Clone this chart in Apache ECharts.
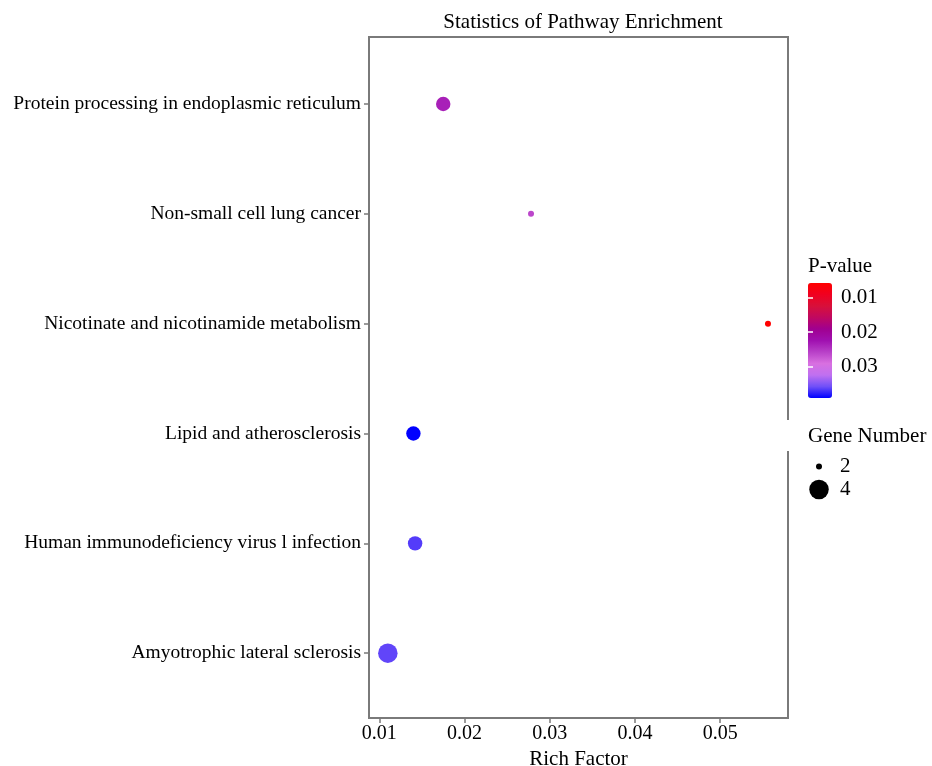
<!DOCTYPE html>
<html>
<head>
<meta charset="utf-8">
<title>Statistics of Pathway Enrichment</title>
<script src="https://cdn.jsdelivr.net/npm/echarts@6/dist/echarts.min.js"></script>
<style>
  html, body {margin: 0; padding: 0; background: #fff;}
  #main {width: 932px; height: 766px;}
</style>
</head>
<body>
<div id="main"></div>
<script>
// 数据（自下而上）
const pathways = [
  "Amyotrophic lateral sclerosis",
  "Human immunodeficiency virus l infection",
  "Lipid and atherosclerosis",
  "Nicotinate and nicotinamide metabolism",
  "Non-small cell lung cancer",
  "Protein processing in endoplasmic reticulum"
];
const richFactor = [0.0110, 0.0142, 0.0140, 0.0556, 0.0278, 0.0175];
const pValue = [0.0362, 0.0366, 0.0391, 0.0057, 0.0262, 0.0235];
const geneNumber = [4, 3, 3, 2, 2, 3];

const xTicks = [0.01, 0.02, 0.03, 0.04, 0.05];
const pTicks = [0.01, 0.02, 0.03];
const sizeLegend = [2, 4];

const FONT = "Liberation Serif";
const pMin = 0.0057, pMax = 0.0391;

// 点大小：按面积在 2 和 4 之间插值
function dotSize(n) {
  let d2 = 6, d4 = 19.5;
  return Math.sqrt(d2 * d2 + (n - 2) / 2 * (d4 * d4 - d2 * d2));
}

let mainData = [];
for (let i = 0; i < pathways.length; i++) {
  mainData.push([richFactor[i], i + 1, pValue[i], geneNumber[i]]);
}
let sizeData = sizeLegend.map(n => [0.5, String(n), n]);

const option = {
  backgroundColor: '#fff',
  animation: false,
  title: {
    text: 'Statistics of Pathway Enrichment',
    left: 578, top: 7, textAlign: 'center',
    textStyle: {fontFamily: FONT, fontSize: 21, fontWeight: 'normal', color: '#000'}
  },
  grid: [
    // 主图
    {left: 369, top: 37, width: 419, height: 681, show: true, outerBoundsMode: 'none',
      borderColor: '#7a7a7a', borderWidth: 2, backgroundColor: '#fff'},
    // P-value 色条刻度
    {left: 808, top: 283, width: 24, height: 115, outerBoundsMode: 'none'},
    // Gene Number 图例
    {left: 809, top: 455, width: 20, height: 46, outerBoundsMode: 'none'}
  ],
  xAxis: [
    {
      gridIndex: 0, type: 'value', min: 0.00879, max: 0.05795,
      name: 'Rich Factor', nameLocation: 'middle', nameGap: 30,
      nameTextStyle: {fontFamily: FONT, fontSize: 21, color: '#000'},
      axisLine: {show: false},
      splitLine: {show: false},
      axisTick: {show: true, length: 5, customValues: xTicks, lineStyle: {color: '#7a7a7a', width: 1.5}},
      axisLabel: {customValues: xTicks, margin: 6, fontFamily: FONT, fontSize: 20, color: '#000',
        formatter: v => v.toFixed(2)}
    },
    {gridIndex: 1, type: 'value', min: 0, max: 1, show: false},
    {gridIndex: 2, type: 'value', min: 0, max: 1, show: false}
  ],
  yAxis: [
    {
      gridIndex: 0, type: 'value', min: 0.41, max: 6.61,
      axisLine: {show: false},
      splitLine: {show: false},
      axisTick: {show: true, length: 5, customValues: [1, 2, 3, 4, 5, 6], lineStyle: {color: '#7a7a7a', width: 1.5}},
      axisLabel: {customValues: [1, 2, 3, 4, 5, 6], margin: 8, fontFamily: FONT, fontSize: 19.5, color: '#000',
        formatter: v => pathways[Math.round(v) - 1]}
    },
    {
      gridIndex: 1, type: 'value', min: pMin, max: pMax, inverse: true, position: 'right', z: 10,
      axisLine: {show: false},
      splitLine: {show: false},
      axisTick: {show: true, inside: true, length: 5, customValues: pTicks, lineStyle: {color: '#fff', width: 1.5}},
      axisLabel: {customValues: pTicks, margin: 9, fontFamily: FONT, fontSize: 21, color: '#000',
        formatter: v => v.toFixed(2)}
    },
    {
      gridIndex: 1, type: 'value', min: pMin, max: pMax, inverse: true, position: 'left', z: 10,
      axisLine: {show: false},
      splitLine: {show: false},
      axisTick: {show: true, inside: true, length: 5, customValues: pTicks, lineStyle: {color: '#fff', width: 1.5}},
      axisLabel: {show: false}
    },
    {
      gridIndex: 2, type: 'category', data: sizeLegend.map(String), inverse: true, position: 'right',
      axisLine: {show: false},
      axisTick: {show: false},
      axisLabel: {interval: 0, hideOverlap: false, margin: 11, fontFamily: FONT, fontSize: 21, color: '#000'}
    }
  ],
  visualMap: {
    type: 'continuous', seriesIndex: 0, dimension: 2,
    min: pMin, max: pMax, inverse: true, calculable: false,
    left: 808, top: 283, padding: 0, itemWidth: 24, itemHeight: 115,
    text: null, showLabel: false, hoverLink: false,
    inRange: {
      color: ['#ff0000', '#f00020', '#d8103a', '#c00860', '#a00090', '#a010b0',
        '#b840c8', '#d870e0', '#c070f0', '#7050f8', '#0000ff']
    }
  },
  graphic: [
    {type: 'text', left: 808, top: 256,
      style: {text: 'P-value', font: '21px "Liberation Serif"', fill: '#000'}},
    {type: 'text', left: 808, top: 426,
      style: {text: 'Gene Number', font: '21px "Liberation Serif"', fill: '#000'}},
    // 图例背景遮住边框的一段
    {type: 'rect', shape: {x: 784, y: 420, width: 8, height: 31}, style: {fill: '#fff'}, z: 100}
  ],
  series: [
    {
      type: 'scatter', xAxisIndex: 0, yAxisIndex: 0,
      data: mainData,
      symbolSize: v => dotSize(v[3]),
      itemStyle: {opacity: 1}
    },
    {
      type: 'scatter', xAxisIndex: 2, yAxisIndex: 3,
      data: sizeData,
      symbolSize: v => dotSize(v[2]),
      itemStyle: {color: '#000', opacity: 1}
    }
  ]
};

let myChart = echarts.init(document.getElementById('main'));
option && myChart.setOption(option);
</script>
</body>
</html>
